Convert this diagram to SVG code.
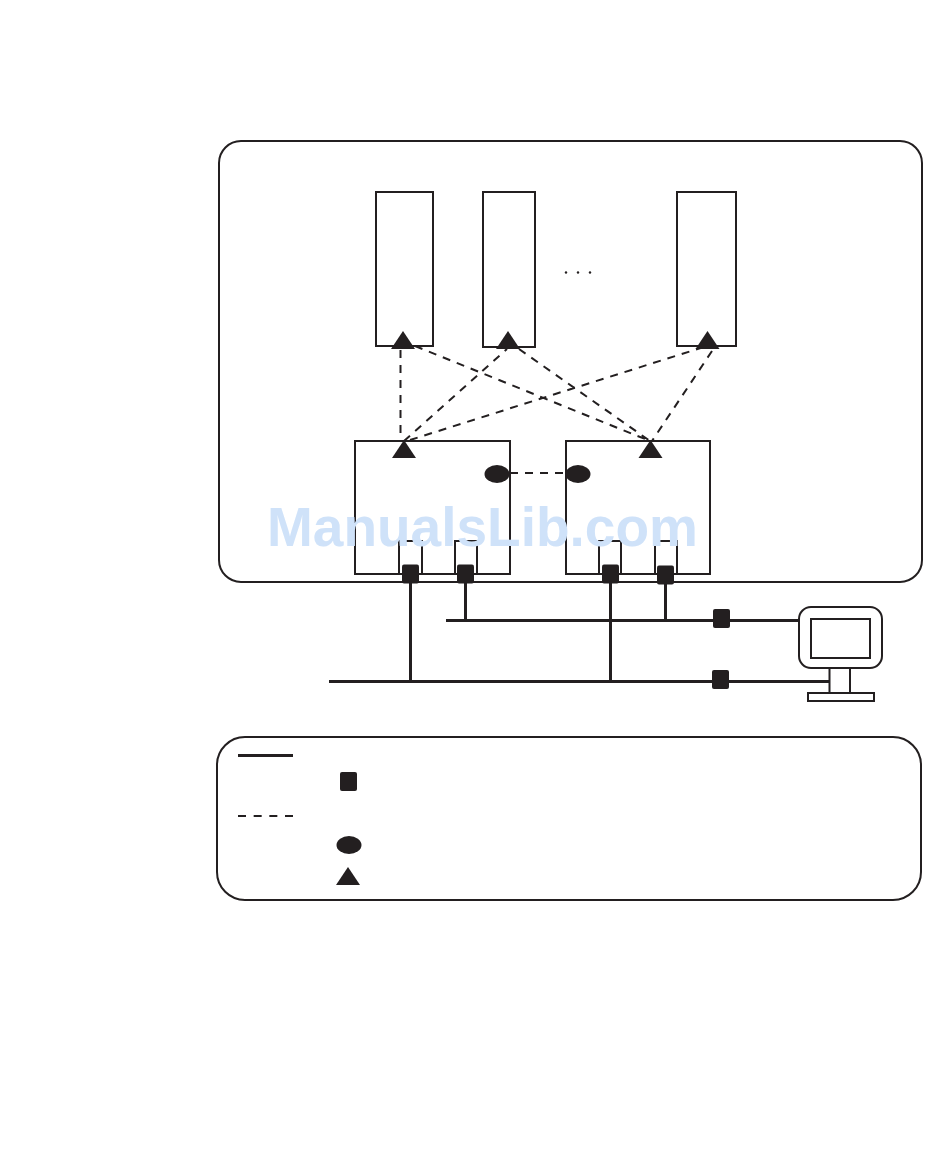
<svg xmlns="http://www.w3.org/2000/svg" width="950" height="1161" viewBox="0 0 950 1161">
<style>
.box{fill:none;stroke:#231f20;stroke-width:2}
.wire{fill:none;stroke:#231f20;stroke-width:3}
.dash{fill:none;stroke:#231f20;stroke-width:2;stroke-dasharray:8 7}
.dash-key{fill:none;stroke:#231f20;stroke-width:2;stroke-dasharray:8 7.670}
.solid{fill:#231f20}
.wm{font-family:"Liberation Sans",Arial,sans-serif;font-weight:700;font-size:55px;fill:#cfe2f9}
</style>
<defs>
<rect id="sq" x="-8.500" y="-9.500" width="17" height="19" rx="2" class="solid"/>
<ellipse id="el" rx="12.500" ry="9" class="solid"/>
<path id="tri" d="M0 0L12 18H-12Z" class="solid"/>
</defs>
<rect width="950" height="1161" fill="#fff"/>
<g id="enclosure"><rect class="box" x="219" y="141" width="703" height="441" rx="22"/></g>
<g id="column-1"><rect class="box" x="376" y="192" width="57" height="154"/></g>
<g id="column-2"><rect class="box" x="483" y="192" width="52" height="155"/></g>
<g id="column-3"><rect class="box" x="677" y="192" width="59" height="154"/></g>
<g id="ellipsis"><circle class="solid" cx="566" cy="272.500" r="1.200"/><circle class="solid" cx="578" cy="272.500" r="1.200"/><circle class="solid" cx="590" cy="272.500" r="1.200"/></g>
<g id="controller-a"><rect class="box" x="355" y="441" width="155" height="133"/>
<path class="box" d="M399 574V541H422V574M455 574V541H477V574"/></g>
<g id="controller-b"><rect class="box" x="566" y="441" width="144" height="133"/>
<path class="box" d="M599 574V541H621V574M655 574V541H677V574"/></g>
<text class="wm" x="267" y="546">ManualsLib.com</text>
<g id="connectors">
<path class="dash" d="M400.500 350V436M404 441L507 349M410 440L707 346M415 346L650 441M519 349L650 441M712 351L652 441M510 473H566"/>
<path class="wire" d="M410.500 582V681M465.500 582V620M610.500 582V681M665.500 582V620M446 620.500H800M329 681.500H829"/>
</g>
<g id="markers">
<use href="#tri" x="403" y="331"/><use href="#tri" x="508" y="331"/><use href="#tri" x="707.500" y="331"/>
<use href="#tri" x="404" y="440"/><use href="#tri" x="650.500" y="440"/>
<use href="#el" x="497" y="474"/><use href="#el" x="578" y="474"/>
<use href="#sq" x="410.500" y="574"/><use href="#sq" x="465.500" y="574"/><use href="#sq" x="610.500" y="574"/><use href="#sq" x="665.500" y="575"/>
<use href="#sq" x="721.500" y="618.500"/><use href="#sq" x="720.500" y="679.500"/>
</g>
<g id="terminal">
<rect class="box" x="799" y="607" width="83" height="61" rx="12"/>
<rect class="box" x="811" y="619" width="59" height="39"/>
<path class="box" d="M829.500 669V693M850 669V693"/>
<rect class="box" x="808" y="693" width="66" height="8"/>
</g>
<g id="legend">
<rect class="box" x="217" y="737" width="704" height="163" rx="28"/>
<path class="wire" d="M238 755.500H293"/>
<use href="#sq" x="348.500" y="781.500"/>
<path class="dash-key" d="M238 816H293"/>
<use href="#el" x="349" y="845"/>
<use href="#tri" x="348" y="867"/>
</g>
</svg>
